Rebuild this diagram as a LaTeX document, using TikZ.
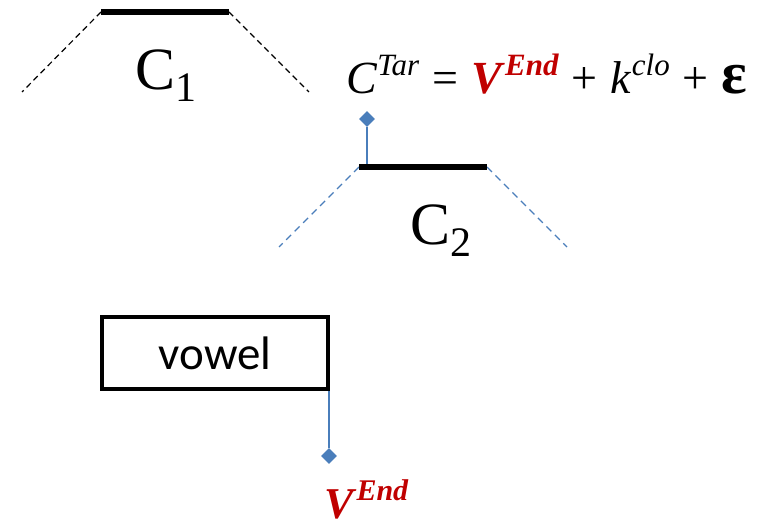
\documentclass[tikz,border=0pt]{standalone}
\usepackage{fontspec}
\setmainfont{Liberation Serif}
\newfontfamily\carlito{Carlito}
\usetikzlibrary{shapes.geometric}
\definecolor{lineblue}{RGB}{74,126,187}
\definecolor{darkred}{RGB}{192,0,0}
\newcommand{\supx}[1]{\raisebox{0.40em}{\fontsize{31}{32}\selectfont #1}}
\newcommand{\opgap}{\hspace{13pt}}
\begin{document}
\begin{tikzpicture}[x=1pt,y=-1pt,
  bar/.style={line width=6pt},
  dashk/.style={line width=1.2pt,dash pattern=on 6pt off 4pt},
  dashb/.style={line width=1.3pt,lineblue,dash pattern=on 7pt off 5pt},
  pin/.style={draw=none,fill=lineblue,diamond,minimum width=16pt,minimum height=16pt,inner sep=0pt},
  stem/.style={lineblue,line width=1.4pt},
  big/.style={font=\fontsize{60}{62}\selectfont,inner sep=0pt}]
\useasboundingbox (0,0) rectangle (763,526);
% C1
\coordinate (c1a) at (101,12);
\coordinate (c1b) at (229,12);
\coordinate (c1l) at (22,92);
\coordinate (c1r) at (309,92);
\draw[dashk] (c1a) -- (c1l);
\draw[dashk] (c1b) -- (c1r);
\draw[bar] (c1a) -- (c1b);
\node[big,anchor=base] (lab1) at (166,90) {C\raisebox{-0.2em}{\fontsize{42}{42}\selectfont 1}};
% C2
\coordinate (c2a) at (359,167);
\coordinate (c2b) at (487,167);
\coordinate (c2l) at (279,247);
\coordinate (c2r) at (567,247);
\draw[dashb] (c2a) -- (c2l);
\draw[dashb] (c2b) -- (c2r);
\draw[bar] (c2a) -- (c2b);
\node[big,anchor=base] (lab2) at (441,245) {C\raisebox{-0.2em}{\fontsize{42}{42}\selectfont 2}};
% pin on C2
\node[pin] (p1) at (367,119) {};
\coordinate (p1b) at (367,164);
\draw[stem] (p1) -- (p1b);
% equation
\node[anchor=base west,inner sep=0pt,font=\fontsize{46}{48}\selectfont] (eq) at (346,94)
 {\textit{C}\supx{\textit{Tar}}\opgap=\opgap\textcolor{darkred}{\textbf{\textit{V}}\supx{\textbf{\textit{End}}}}\opgap+\opgap\textit{k}\supx{\textit{clo}}\opgap+\opgap{\fontsize{60}{60}\selectfont\textbf{ε}}};
% vowel box
\node[draw,line width=4pt,minimum width=226pt,minimum height=72pt,inner sep=0pt,
      font=\carlito\fontsize{47}{50}\selectfont] (vowel) at (215,353) {vowel};
\node[pin] (p2) at (329,456) {};
\draw[stem] (vowel.south east -| p2) -- (p2);
\node[anchor=base west,inner sep=0pt,font=\fontsize{44}{46}\selectfont,text=darkred] (vend) at (324,518)
 {\textbf{\textit{V}}\raisebox{0.40em}{\fontsize{30}{31}\selectfont\textbf{\textit{End}}}};
\end{tikzpicture}
\end{document}
